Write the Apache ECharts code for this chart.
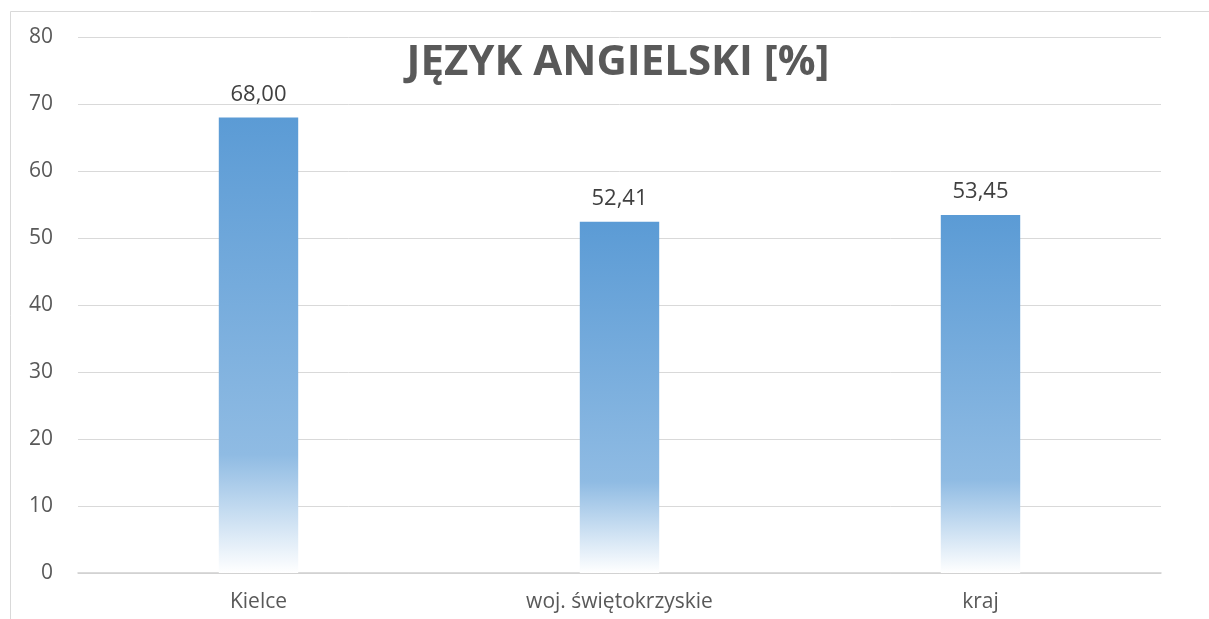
<!DOCTYPE html>
<html>
<head>
<meta charset="utf-8">
<style>
  html, body { margin: 0; padding: 0; background: #fff; }
  #chart { width: 1209px; height: 619px; }
</style>
<script src="https://cdn.jsdelivr.net/npm/echarts@6/dist/echarts.min.js"></script>
</head>
<body>
<div id="chart"></div>
<script>
const categories = ["Kielce", "woj. świętokrzyskie", "kraj"];
const values = [68.0, 52.41, 53.45];
const chartTitle = "JĘZYK ANGIELSKI [%]";

const chart = echarts.init(document.getElementById("chart"));

// gradient like the Excel fill: solid blue on top, fading to white at the base
const barFill = new echarts.graphic.LinearGradient(0, 0, 0, 1, [
  { offset: 0, color: "#5B9BD5" },
  { offset: 0.74, color: "#8FBBE3" },
  { offset: 1, color: "#FFFFFF" },
]);

chart.setOption({
  animation: false,
  backgroundColor: "#fff",
  title: {
    text: chartTitle,
    left: 613,
    textAlign: "center",
    top: 37,
    textStyle: {
      fontFamily: "Open Sans",
      fontWeight: "bold",
      fontSize: 42,
      color: "#595959",
    },
  },
  graphic: [
    {
      type: "rect",
      shape: { x: 10.5, y: 11.5, width: 1300, height: 700 },
      style: { fill: "none", stroke: "#D9D9D9", lineWidth: 1 },
      silent: true,
    },
  ],
  grid: { left: 78, right: 48, top: 37, bottom: 46 },
  xAxis: {
    type: "category",
    data: categories,
    axisLine: { lineStyle: { color: "#D0D0D0", width: 1.5 } },
    axisTick: { show: false },
    axisLabel: {
      color: "#595959",
      fontFamily: "Open Sans",
      fontSize: 21,
      margin: 19,
    },
  },
  yAxis: {
    type: "value",
    min: 0,
    max: 80,
    interval: 10,
    axisLine: { show: false },
    axisTick: { show: false },
    axisLabel: {
      color: "#595959",
      fontFamily: "Open Sans",
      fontSize: 21,
      margin: 25,
    },
    splitLine: { lineStyle: { color: "#D9D9D9", width: 1 } },
  },
  series: [
    {
      type: "bar",
      data: values,
      barWidth: "22%",
      itemStyle: { color: barFill },
      label: {
        show: true,
        position: "top",
        distance: 12,
        color: "#404040",
        fontFamily: "Open Sans",
        fontSize: 22,
        formatter: (p) => p.value.toFixed(2).replace(".", ","),
      },
    },
  ],
});
</script>
</body>
</html>
